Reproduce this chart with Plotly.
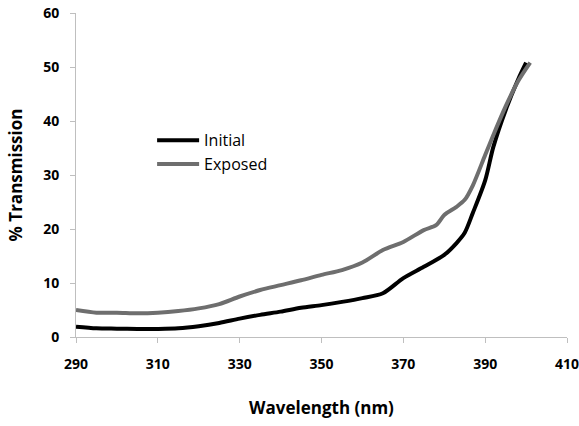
import plotly.graph_objects as go

initial_wl = [290, 295, 300, 305, 310, 315, 320, 325, 330, 335, 340, 345, 350, 355, 360, 365, 370, 375, 380, 383, 385, 387, 390, 392, 395, 398, 400]
initial_T = [1.9, 1.6, 1.55, 1.5, 1.5, 1.6, 2.0, 2.6, 3.4, 4.1, 4.7, 5.4, 5.9, 6.5, 7.2, 8.1, 10.9, 13.0, 15.2, 17.4, 19.3, 23.0, 29.0, 35.2, 42.0, 47.6, 50.8]

exposed_wl = [290, 295, 300, 305, 310, 315, 320, 325, 330, 335, 340, 345, 350, 355, 360, 365, 370, 375, 378, 380, 383, 385, 387, 390, 392, 395, 398, 401]
exposed_T = [5.0, 4.5, 4.5, 4.4, 4.5, 4.8, 5.3, 6.1, 7.5, 8.7, 9.6, 10.5, 11.5, 12.4, 13.8, 16.1, 17.6, 19.8, 20.7, 22.6, 24.1, 25.4, 28.1, 33.7, 37.4, 42.7, 47.3, 50.8]

x_ticks = [290, 310, 330, 350, 370, 390, 410]
y_ticks = [0, 10, 20, 30, 40, 50, 60]

FONT = "Open Sans"

fig = go.Figure()
fig.add_trace(go.Scatter(x=initial_wl, y=initial_T, mode="lines", name="Initial",
                         line=dict(color="#000000", width=4, shape="spline", smoothing=0.8)))
fig.add_trace(go.Scatter(x=exposed_wl, y=exposed_T, mode="lines", name="Exposed",
                         line=dict(color="#6e6e6e", width=4, shape="spline", smoothing=0.8)))

fig.update_layout(
    width=579, height=426,
    margin=dict(l=76, r=12, t=13, b=89, autoexpand=False),
    paper_bgcolor="white", plot_bgcolor="white",
    font=dict(family=FONT, color="#000000"),
    showlegend=True,
    legend=dict(x=0.155, y=0.57, xanchor="left", yanchor="middle",
                bgcolor="rgba(0,0,0,0)", font=dict(family=FONT, size=16, color="#000"),
                tracegroupgap=0, itemwidth=42),
)
fig.update_xaxes(
    range=[290, 410], tickvals=x_ticks, ticktext=[str(v) for v in x_ticks],
    showgrid=False, zeroline=False, showline=True, linecolor="#bfbfbf", linewidth=1,
    ticks="outside", ticklen=5, tickcolor="#bfbfbf", ticklabelstandoff=9,
    ticklabeloverflow="allow",
    tickfont=dict(family=FONT, size=14, weight="bold"), automargin=False,
    title=dict(text="Wavelength (nm)", font=dict(family=FONT, size=17, weight="bold"), standoff=30),
)
fig.update_yaxes(
    range=[0, 60], tickvals=y_ticks, ticktext=[str(v) for v in y_ticks],
    showgrid=False, zeroline=False, showline=True, linecolor="#bfbfbf", linewidth=1,
    ticks="outside", ticklen=5, tickcolor="#bfbfbf", ticklabelstandoff=8,
    ticklabeloverflow="allow",
    tickfont=dict(family=FONT, size=14, weight="bold"), automargin=False,
    title=dict(text="% Transmission", font=dict(family=FONT, size=17, weight="bold"), standoff=16),
)

fig.write_html("out.html", default_width="579px", default_height="426px",
               config={"displayModeBar": False, "staticPlot": True},
               post_script="document.body.style.margin='0';document.body.style.overflow='hidden';")
